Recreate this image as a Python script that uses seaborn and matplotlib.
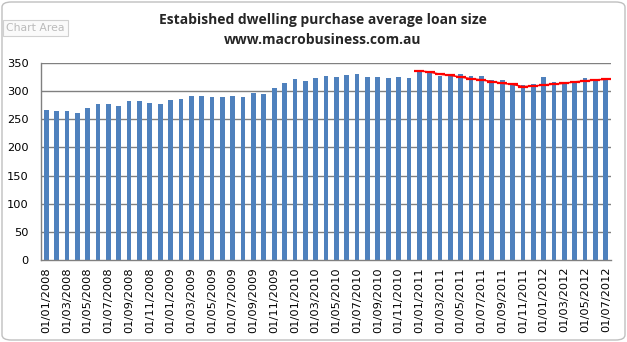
import matplotlib
matplotlib.use("Agg")
import matplotlib.pyplot as plt
from matplotlib.patches import FancyBboxPatch
import seaborn as sns
import pandas as pd
import numpy as np

months = pd.date_range("2008-01-01", "2012-07-01", freq="MS")
labels = [d.strftime("%d/%m/%Y") for d in months]

loan_size = [267, 265, 265, 261, 270, 277, 277, 274, 283, 283, 279, 277,
             285, 286, 292, 292, 290, 290, 292, 290, 297, 295, 306, 315,
             322, 318, 324, 327, 326, 329, 331, 326, 326, 324, 326, 324,
             336, 333, 327, 331, 331, 327, 327, 320, 320, 313, 311, 313,
             326, 317, 317, 318, 324, 322, 322]

trend_start = "01/01/2011"
trend = [336, 334, 330, 328, 325, 322, 320, 317, 314, 312,
         308, 309, 311, 312.5, 314, 316.5, 318, 320, 321]

sns.set_theme(style="white")
plt.rcParams["font.family"] = ["DejaVu Sans"]

fig = plt.figure(figsize=(6.27, 3.42), dpi=100)
rect = [41/627, 1 - 260/342, (611-41)/627, (260-63)/342]
ax = fig.add_axes(rect)

for y in range(50, 351, 50):
    ax.axhline(y, color="#808080", linewidth=1.0, zorder=1, snap=True)

df = pd.DataFrame({"month": labels, "loan": loan_size})
sns.barplot(data=df, x="month", y="loan", color="#4F81BD", saturation=1,
            width=0.45, linewidth=0, ax=ax)

ax.set_ylim(0, 350)
ax.set_yticks(range(0, 351, 50))
ax.set_xlim(-0.5, len(labels) - 0.5)
ax.set_xticks(range(0, len(labels), 2))
ax.set_xticklabels(labels[::2], rotation=90, fontsize=8.2, color="#000000")
ax.tick_params(axis="y", labelsize=8.2, colors="#000000", length=0, pad=9)
ax.tick_params(axis="x", length=0, pad=5)
ax.set_xlabel("")
ax.set_ylabel("")
for s in ["top", "right"]:
    ax.spines[s].set_visible(False)
for s in ["left", "bottom"]:
    ax.spines[s].set_color("#808080")
    ax.spines[s].set_linewidth(1.0)
    ax.spines[s].set_zorder(4)

# overlay axes for the trend line so it sits above the bars
ax2 = fig.add_axes(rect)
ax2.patch.set_alpha(0)
start = labels.index(trend_start)
pos = np.arange(start, start + len(trend))
sns.lineplot(x=pos, y=trend, color="#FF0000", linewidth=1.1,
             marker="_", markersize=6.5, markeredgewidth=1.6,
             markeredgecolor="#FF0000", ax=ax2)
ax2.set_xlim(ax.get_xlim())
ax2.set_ylim(ax.get_ylim())
ax2.axis("off")

fig.text(0.515, 1 - 20/342, "Estabished dwelling purchase average loan size",
         ha="center", va="center", fontsize=10, fontweight="bold",
         family=["Open Sans", "DejaVu Sans"])
fig.text(0.515, 1 - 40/342, "www.macrobusiness.com.au",
         ha="center", va="center", fontsize=10, fontweight="bold",
         family=["Open Sans", "DejaVu Sans"])

# chart area outline
border = FancyBboxPatch((2/627, 2/342), 623/627, 338/342,
                        boxstyle="round,pad=0,rounding_size=0.015",
                        transform=fig.transFigure, facecolor="none",
                        edgecolor="#BFBFBF", linewidth=1)
fig.patches.append(border)

fig.text(6/627, 1 - 28/342, "Chart Area", ha="left", va="center",
         fontsize=7.8, color="#BBBBBB",
         bbox=dict(boxstyle="square,pad=0.3", facecolor="#FAFAFA",
                   edgecolor="#D0D0D0", linewidth=0.8))

fig.savefig("out.png", dpi=100)
